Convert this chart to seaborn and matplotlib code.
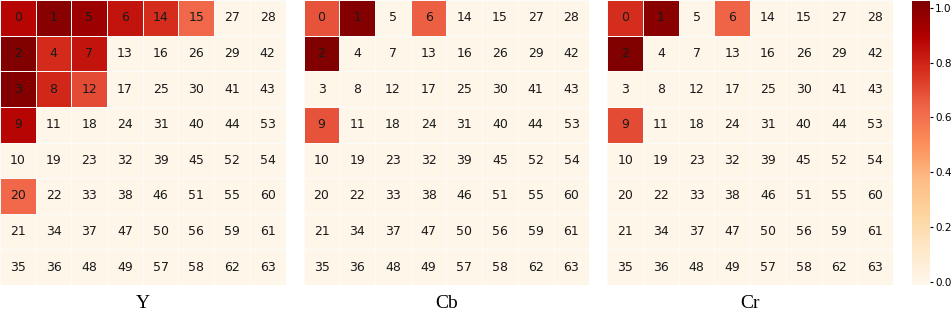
import numpy as np
import matplotlib
matplotlib.use("Agg")
import seaborn as sns
from matplotlib import pyplot as plt

# zigzag index of each DCT coefficient (cell annotations)
zigzag = [
    [0, 1, 5, 6, 14, 15, 27, 28],
    [2, 4, 7, 13, 16, 26, 29, 42],
    [3, 8, 12, 17, 25, 30, 41, 43],
    [9, 11, 18, 24, 31, 40, 44, 53],
    [10, 19, 23, 32, 39, 45, 52, 54],
    [20, 22, 33, 38, 46, 51, 55, 60],
    [21, 34, 37, 47, 50, 56, 59, 61],
    [35, 36, 48, 49, 57, 58, 62, 63],
]

# importance per coefficient
y_vals = [
    [0.88, 1.00, 0.95, 0.84, 0.77, 0.63, 0, 0],
    [1.02, 0.78, 0.84, 0, 0, 0, 0, 0],
    [1.01, 0.79, 0.70, 0, 0, 0, 0, 0],
    [0.88, 0, 0, 0, 0, 0, 0, 0],
    [0, 0, 0, 0, 0, 0, 0, 0],
    [0.63, 0, 0, 0, 0, 0, 0, 0],
    [0, 0, 0, 0, 0, 0, 0, 0],
    [0, 0, 0, 0, 0, 0, 0, 0],
]
cb_vals = [
    [0.68, 1.01, 0, 0.65, 0, 0, 0, 0],
    [1.02, 0, 0, 0, 0, 0, 0, 0],
    [0, 0, 0, 0, 0, 0, 0, 0],
    [0.68, 0, 0, 0, 0, 0, 0, 0],
    [0, 0, 0, 0, 0, 0, 0, 0],
    [0, 0, 0, 0, 0, 0, 0, 0],
    [0, 0, 0, 0, 0, 0, 0, 0],
    [0, 0, 0, 0, 0, 0, 0, 0],
]
cr_vals = [
    [0.77, 1.00, 0, 0.64, 0, 0, 0, 0],
    [1.02, 0, 0, 0, 0, 0, 0, 0],
    [0, 0, 0, 0, 0, 0, 0, 0],
    [0.70, 0, 0, 0, 0, 0, 0, 0],
    [0, 0, 0, 0, 0, 0, 0, 0],
    [0, 0, 0, 0, 0, 0, 0, 0],
    [0, 0, 0, 0, 0, 0, 0, 0],
    [0, 0, 0, 0, 0, 0, 0, 0],
]
channels = ["Y", "Cb", "Cr"]

fig = plt.figure(figsize=(9.52, 3.16), dpi=100)
axes = [
    fig.add_axes([0.0, 0.098, 0.300, 0.902]),
    fig.add_axes([0.319, 0.098, 0.300, 0.902]),
    fig.add_axes([0.638, 0.098, 0.300, 0.902]),
]
cax = fig.add_axes([0.958, 0.098, 0.019, 0.899])

for i, (ax, name, vals) in enumerate(zip(axes, channels, [y_vals, cb_vals, cr_vals])):
    sns.heatmap(np.array(vals), ax=ax, cmap="OrRd", vmin=-0.012, vmax=1.025,
                annot=np.array(zigzag), fmt="d",
                annot_kws={"fontsize": 9, "color": "#1a1a1a"},
                linewidths=0.5, linecolor="#fbfbfb",
                xticklabels=False, yticklabels=False,
                cbar=(i == 2), cbar_ax=cax if i == 2 else None)
    ax.set_xlabel(name, family="Liberation Serif", fontsize=14, labelpad=7)

cax.set_yticks([0.0, 0.2, 0.4, 0.6, 0.8, 1.0])
cax.set_yticklabels(["0.0", "0.2", "0.4", "0.6", "0.8", "1.0"])
cax.tick_params(labelsize=7.5, length=2.5, width=0.8, pad=1)

fig.savefig("out.png", dpi=100)
